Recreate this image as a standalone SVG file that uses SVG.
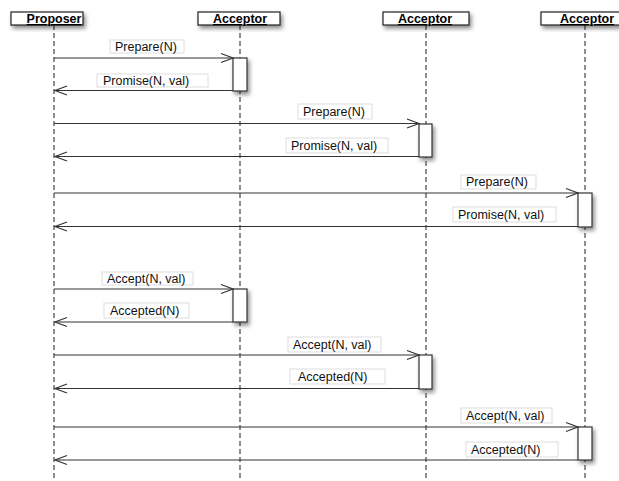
<svg xmlns="http://www.w3.org/2000/svg" width="619" height="481" viewBox="0 0 619 481">
<style>
.life{stroke:#444;stroke-width:1.2;stroke-dasharray:5 3;fill:none}
.hdr{fill:#fff;stroke:#222;stroke-width:1.2}
.htxt{font-family:"Liberation Sans",Arial,sans-serif;font-size:12.5px;font-weight:bold;text-decoration:underline;fill:#000}
.act{fill:#fff;stroke:#333;stroke-width:1.2}
.msg{stroke:#333;stroke-width:1.2;fill:none}
.lbl{fill:#fff;stroke:#ddd;stroke-width:1}
.ltxt{font-family:"Liberation Sans",Arial,sans-serif;font-size:12.5px;fill:#111}
</style>
<defs>
<filter id="sh" x="-50%" y="-50%" width="200%" height="200%">
<feDropShadow dx="2" dy="3" stdDeviation="2" flood-color="#000" flood-opacity="0.45"/>
</filter>
<marker id="ar" markerUnits="userSpaceOnUse" markerWidth="16" markerHeight="12" refX="13" refY="6" orient="auto">
<polyline points="1,1.5 13,6 1,10.5" fill="none" stroke="#333" stroke-width="1.2"/>
</marker>
</defs>
<rect width="619" height="481" fill="#fff"/>

<g id="lifelines">
<line class="life" x1="54" y1="25" x2="54" y2="481"/>
<line class="life" x1="240" y1="25" x2="240" y2="481"/>
<line class="life" x1="426" y1="25" x2="426" y2="481"/>
<line class="life" x1="585" y1="25" x2="585" y2="481"/>
</g>

<g id="proposer">
<rect class="hdr" x="11" y="12" width="72" height="13" filter="url(#sh)"/>
<text class="htxt" x="54" y="23" text-anchor="middle">Proposer</text>
</g>
<g id="acceptor1">
<rect class="hdr" x="198" y="12" width="82" height="13" filter="url(#sh)"/>
<text class="htxt" x="240" y="23" text-anchor="middle">Acceptor</text>
</g>
<g id="acceptor2">
<rect class="hdr" x="383" y="12" width="86" height="13" filter="url(#sh)"/>
<text class="htxt" x="425" y="23" text-anchor="middle">Acceptor</text>
</g>
<g id="acceptor3">
<rect class="hdr" x="541" y="12" width="92" height="13" filter="url(#sh)"/>
<text class="htxt" x="587" y="23" text-anchor="middle">Acceptor</text>
</g>

<g id="activations">
<rect class="act" x="233" y="58" width="14" height="33" filter="url(#sh)"/>
<rect class="act" x="419" y="124" width="13" height="33" filter="url(#sh)"/>
<rect class="act" x="578" y="193" width="14" height="34" filter="url(#sh)"/>
<rect class="act" x="233" y="289" width="14" height="33" filter="url(#sh)"/>
<rect class="act" x="419" y="355" width="13" height="34" filter="url(#sh)"/>
<rect class="act" x="578" y="427" width="14" height="33" filter="url(#sh)"/>
</g>

<g id="connectors">
<line class="msg" x1="54" y1="58" x2="233" y2="58" marker-end="url(#ar)"/>
<line class="msg" x1="233" y1="90.5" x2="55" y2="90.5" marker-end="url(#ar)"/>
<line class="msg" x1="54" y1="123.5" x2="419" y2="123.5" marker-end="url(#ar)"/>
<line class="msg" x1="419" y1="156.5" x2="55" y2="156.5" marker-end="url(#ar)"/>
<line class="msg" x1="54" y1="193" x2="578" y2="193" marker-end="url(#ar)"/>
<line class="msg" x1="578" y1="226.5" x2="55" y2="226.5" marker-end="url(#ar)"/>
<line class="msg" x1="54" y1="289" x2="233" y2="289" marker-end="url(#ar)"/>
<line class="msg" x1="233" y1="322" x2="55" y2="322" marker-end="url(#ar)"/>
<line class="msg" x1="54" y1="355" x2="419" y2="355" marker-end="url(#ar)"/>
<line class="msg" x1="419" y1="388.5" x2="55" y2="388.5" marker-end="url(#ar)"/>
<line class="msg" x1="54" y1="427" x2="578" y2="427" marker-end="url(#ar)"/>
<line class="msg" x1="578" y1="460" x2="55" y2="460" marker-end="url(#ar)"/>
</g>

<g id="labels">
<rect class="lbl" x="110" y="40" width="74" height="13"/>
<text class="ltxt" x="115" y="51">Prepare(N)</text>
<rect class="lbl" x="97" y="74" width="111" height="13"/>
<text class="ltxt" x="103" y="85">Promise(N, val)</text>

<rect class="lbl" x="298" y="104" width="74" height="15"/>
<text class="ltxt" x="303" y="116">Prepare(N)</text>
<rect class="lbl" x="286" y="138" width="102" height="15"/>
<text class="ltxt" x="291" y="150">Promise(N, val)</text>

<rect class="lbl" x="461" y="175" width="75" height="14"/>
<text class="ltxt" x="466" y="186">Prepare(N)</text>
<rect class="lbl" x="453" y="207" width="103" height="15"/>
<text class="ltxt" x="458" y="219">Promise(N, val)</text>

<rect class="lbl" x="102" y="272" width="91" height="13"/>
<text class="ltxt" x="107" y="283">Accept(N, val)</text>
<rect class="lbl" x="104" y="303" width="85" height="15"/>
<text class="ltxt" x="110" y="315">Accepted(N)</text>

<rect class="lbl" x="288" y="337" width="93" height="15"/>
<text class="ltxt" x="293" y="349">Accept(N, val)</text>
<rect class="lbl" x="290" y="369" width="95" height="15"/>
<text class="ltxt" x="298" y="381">Accepted(N)</text>

<rect class="lbl" x="461" y="408" width="91" height="15"/>
<text class="ltxt" x="466" y="420">Accept(N, val)</text>
<rect class="lbl" x="466" y="442" width="92" height="15"/>
<text class="ltxt" x="471" y="454">Accepted(N)</text>
</g>
</svg>
